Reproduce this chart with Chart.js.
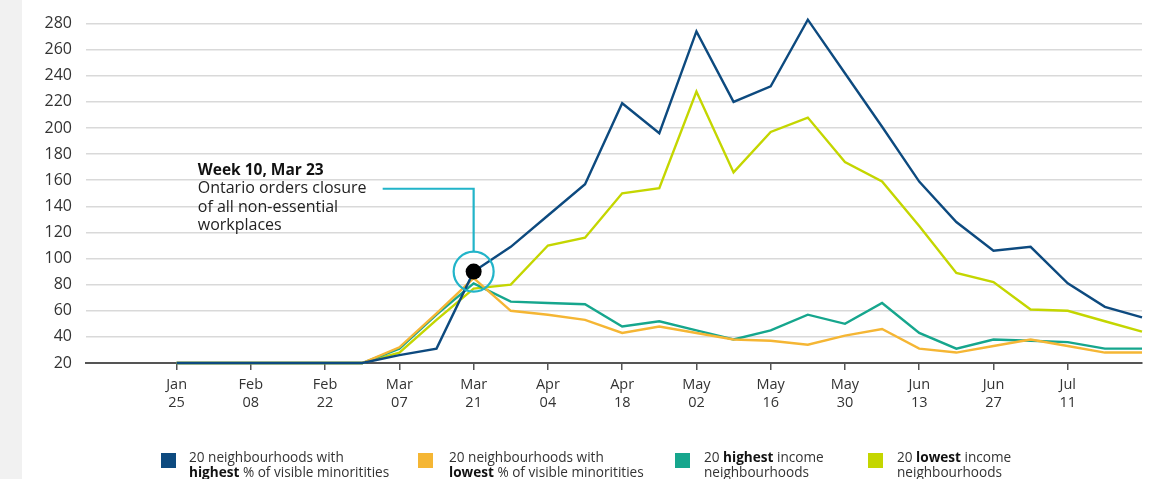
<!DOCTYPE html>
<html>
<head>
<meta charset="utf-8">
<script src="https://cdn.jsdelivr.net/npm/chart.js@4.4.1/dist/chart.umd.min.js"></script>
<style>
  html, body { margin: 0; padding: 0; background: #ffffff; width: 1153px; height: 479px; overflow: hidden; }
  #strip { position: absolute; left: 0; top: 0; width: 22px; height: 479px; background: #f1f1f1; }
  #c { position: absolute; left: 0; top: 0; }
  .leg { position: absolute; top: 448.5px; font-family: "Open Sans", sans-serif; font-size: 13.6px; line-height: 15px; color: #333; white-space: nowrap; }
  .leg .sw { position: absolute; left: 0; top: 4px; width: 15px; height: 15px; }
  .leg .tx { position: absolute; top: 0; }
  .leg b { color: #111; font-weight: 700; }
</style>
</head>
<body>
<div id="strip"></div>
<canvas id="c" width="1153" height="479"></canvas>
<div id="legend"></div>
<script>
// ---- data (weekly, week 0 = Jan 25) ----
const weeks = [0,1,2,3,4,5,6,7,8,9,10,11,12,13,14,15,16,17,18,19,20,21,22,23,24,25,26];
const highestMinorities = [20,20,20,20,20,20,26,31,90,109,133,157,219,196,274,220,232,283,242,201,159,128,106,109,81,63,55];
const lowestMinorities  = [20,20,20,20,20,20,32,58,85,60,57,53,43,48,43,38,37,34,41,46,31,28,33,38,33,28,28];
const highestIncome     = [20,20,20,20,20,20,31,57,81,67,66,65,48,52,45,38,45,57,50,66,43,31,38,37,36,31,31];
const lowestIncome      = [20,20,20,20,20,20,28,53,77,80,110,116,150,154,228,166,197,208,174,159,125,89,82,61,60,52,44];

const tickWeeks  = [0,2,4,6,8,10,12,14,16,18,20,22,24];
const tickMonths = ["Jan","Feb","Feb","Mar","Mar","Apr","Apr","May","May","May","Jun","Jun","Jul"];
const tickDays   = ["25","08","22","07","21","04","18","02","16","30","13","27","11"];

const seriesNames = [
  ["20 neighbourhoods with", "<b>highest</b> % of visible minoritities"],
  ["20 neighbourhoods with", "<b>lowest</b> % of visible minoritities"],
  ["20 <b>highest</b> income", "neighbourhoods"],
  ["20 <b>lowest</b> income", "neighbourhoods"]
];
const seriesColors = ["#0d4a7f", "#f5b634", "#16a68d", "#c4d600"];

// annotation
const annotWeek = 8, annotValue = 90;
const connectorValue = 153.5, connectorEndWeek = 5.55, annotTextWeek = 0.57;
const annotTitle = "Week 10, Mar 23";
const annotLines = ["Ontario orders closure", "of all non-essential", "workplaces"];

// ---- legend (HTML) ----
const legendX = [161, 418, 675, 868];
const legendTextOffset = [28, 31, 29, 29];
const legendEl = document.getElementById('legend');
seriesNames.forEach((n, i) => {
  const d = document.createElement('div');
  d.className = 'leg';
  d.style.left = legendX[i] + 'px';
  d.innerHTML = '<div class="sw" style="background:' + seriesColors[i] + '"></div>' +
    '<div class="tx" style="left:' + legendTextOffset[i] + 'px">' + n[0] + '<br>' + n[1] + '</div>';
  legendEl.appendChild(d);
});

const FONT = '"Open Sans", sans-serif';

const annotationPlugin = {
  id: 'annot',
  afterDatasetsDraw(chart) {
    const ctx = chart.ctx;
    const xs = chart.scales.x, ys = chart.scales.y;
    const px = xs.getPixelForValue(annotWeek);
    const py = ys.getPixelForValue(annotValue);
    const cy = ys.getPixelForValue(connectorValue);
    const cx = xs.getPixelForValue(connectorEndWeek);
    const r = 20;
    ctx.save();
    ctx.strokeStyle = '#22b4c9';
    ctx.lineWidth = 2.2;
    ctx.beginPath();
    ctx.moveTo(px, py - r);
    ctx.lineTo(px, cy);
    ctx.lineTo(cx, cy);
    ctx.stroke();
    ctx.beginPath();
    ctx.arc(px, py, r, 0, Math.PI * 2);
    ctx.stroke();
    ctx.fillStyle = '#000';
    ctx.beginPath();
    ctx.arc(px, py, 8, 0, Math.PI * 2);
    ctx.fill();
    // text
    const tx = xs.getPixelForValue(annotTextWeek);
    ctx.textAlign = 'left';
    ctx.textBaseline = 'middle';
    ctx.fillStyle = '#111';
    ctx.font = 'bold 15.5px ' + FONT;
    ctx.fillText(annotTitle, tx, cy - 18.5);
    ctx.font = '16px ' + FONT;
    ctx.fillStyle = '#222';
    annotLines.forEach((l, i) => ctx.fillText(l, tx, cy + i * 18.6));
    ctx.restore();
  }
};

function ds(label, data, color) {
  return { label, data: weeks.map((w, i) => ({ x: w, y: data[i] })), borderColor: color, backgroundColor: color,
           borderWidth: 2.4, pointRadius: 0, tension: 0, fill: false, clip: false };
}

new Chart(document.getElementById('c'), {
  type: 'line',
  data: {
    datasets: [
      ds('highest minorities', highestMinorities, seriesColors[0]),
      ds('lowest minorities', lowestMinorities, seriesColors[1]),
      ds('highest income', highestIncome, seriesColors[2]),
      ds('lowest income', lowestIncome, seriesColors[3])
    ]
  },
  options: {
    responsive: false,
    animation: false,
    devicePixelRatio: 1,
    layout: { padding: { left: 22, right: 11, top: 17, bottom: 0 } },
    plugins: { legend: { display: false }, tooltip: { enabled: false } },
    scales: {
      x: {
        type: 'linear',
        min: -2.44, max: 26,
        afterBuildTicks: s => { s.ticks = tickWeeks.map(v => ({ value: v })); },
        afterFit: s => { s.height = 116; },
        grid: { drawOnChartArea: false, drawTicks: true, tickLength: 7, color: '#555', lineWidth: 1.5 },
        border: { display: true, color: '#555', width: 2 },
        ticks: {
          autoSkip: false, maxRotation: 0, padding: 6, color: '#333',
          font: { family: FONT, size: 14.5, lineHeight: 1.25 },
          callback: (v, i) => [tickMonths[i], tickDays[i]]
        }
      },
      y: {
        min: 20, max: 280,
        afterFit: s => { s.width = 64; },
        grid: { drawTicks: false, color: '#d9d9d9', lineWidth: 1.5 },
        border: { display: false },
        ticks: { stepSize: 20, padding: 14, color: '#333', font: { family: FONT, size: 16 } }
      }
    }
  },
  plugins: [annotationPlugin]
});
</script>
</body>
</html>
